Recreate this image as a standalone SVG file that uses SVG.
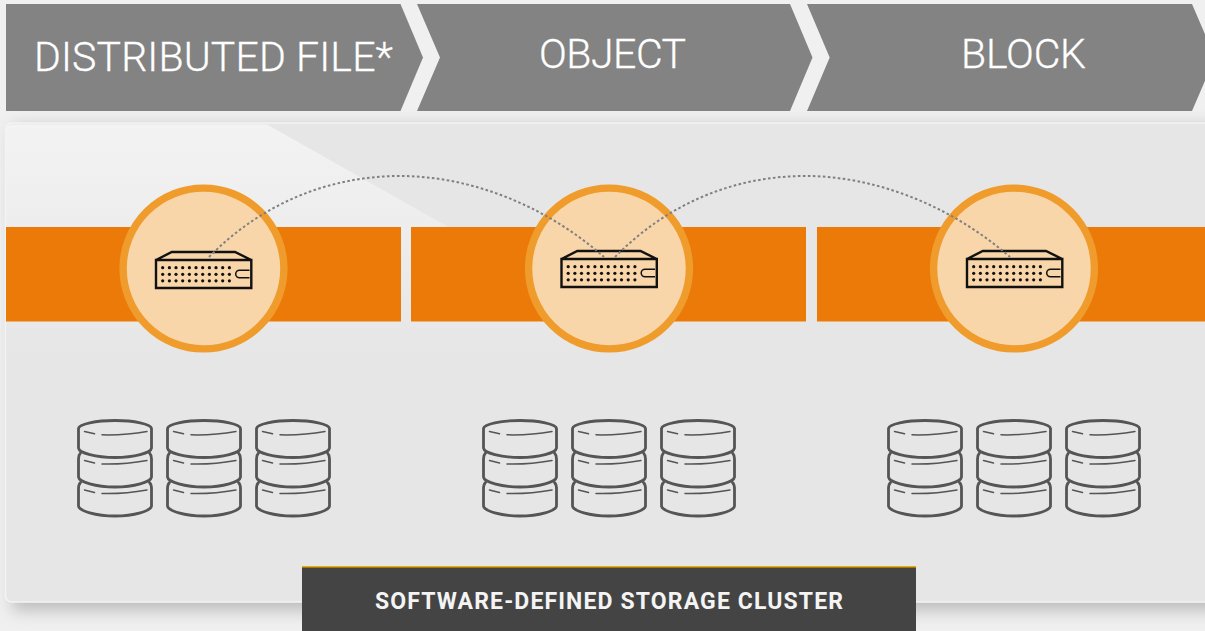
<svg xmlns="http://www.w3.org/2000/svg" width="1205" height="631" viewBox="0 0 1205 631">
<style>
.chev{fill:#838383}
.title{font-family:"Roboto","Noto Sans",sans-serif;font-size:41px;fill:#fff;font-weight:300;stroke:#fff;stroke-width:0.3}
.band{fill:#ec7a08}
.halo{fill:#f9d6a9;stroke:#f09c2c;stroke-width:7.4}
.srv{fill:none;stroke:#111;stroke-width:2.4}
.dots{fill:#111}
.disk{fill:none;stroke:#555;stroke-width:2.8;stroke-linejoin:round;stroke-linecap:round}
.link{fill:none;stroke:#808080;stroke-width:2;stroke-dasharray:2.6 2.4}
.cap{font-family:"Roboto","Noto Sans",sans-serif;font-size:23px;font-weight:700;fill:#f4f4f4}
</style>
<defs>
<filter id="soft" x="-5%" y="-5%" width="110%" height="110%"><feGaussianBlur stdDeviation="8"/></filter>
<linearGradient id="gleam" x1="0" y1="0" x2="0" y2="1"><stop offset="0" stop-color="#f3f3f3"/><stop offset="1" stop-color="#e6e6e6"/></linearGradient>
<g id="server">
<path class="srv" d="M156,260H251.3V288H156ZM156,260L171.8,252H235L251.3,260"/>
<path class="srv" style="stroke-width:1.5" d="M249.5,270.2H239.5a3.8,3.8 0 0 0 0,7.6H249.5"/>
<g class="dots">
<circle cx="162.7" cy="267.7" r="1.6"/><circle cx="169.4" cy="267.7" r="1.6"/><circle cx="176" cy="267.7" r="1.6"/><circle cx="182.7" cy="267.7" r="1.6"/><circle cx="189.4" cy="267.7" r="1.6"/><circle cx="196" cy="267.7" r="1.6"/><circle cx="202.7" cy="267.7" r="1.6"/><circle cx="209.4" cy="267.7" r="1.6"/><circle cx="216" cy="267.7" r="1.6"/><circle cx="222.7" cy="267.7" r="1.6"/><circle cx="229.4" cy="267.7" r="1.6"/>
<circle cx="162.7" cy="274.3" r="1.6"/><circle cx="169.4" cy="274.3" r="1.6"/><circle cx="176" cy="274.3" r="1.6"/><circle cx="182.7" cy="274.3" r="1.6"/><circle cx="189.4" cy="274.3" r="1.6"/><circle cx="196" cy="274.3" r="1.6"/><circle cx="202.7" cy="274.3" r="1.6"/><circle cx="209.4" cy="274.3" r="1.6"/><circle cx="216" cy="274.3" r="1.6"/><circle cx="222.7" cy="274.3" r="1.6"/><circle cx="229.4" cy="274.3" r="1.6"/>
<circle cx="162.7" cy="280.8" r="1.6"/><circle cx="169.4" cy="280.8" r="1.6"/><circle cx="176" cy="280.8" r="1.6"/><circle cx="182.7" cy="280.8" r="1.6"/><circle cx="189.4" cy="280.8" r="1.6"/><circle cx="196" cy="280.8" r="1.6"/><circle cx="202.7" cy="280.8" r="1.6"/><circle cx="209.4" cy="280.8" r="1.6"/><circle cx="216" cy="280.8" r="1.6"/><circle cx="222.7" cy="280.8" r="1.6"/><circle cx="229.4" cy="280.8" r="1.6"/>
</g>
</g>
<g id="stack">
<path class="disk" d="M78.500,428.500C79,424 96,420.500 115,420.500C134,420.500 151,424 151.500,428.500V448C151,453 134,457.500 115,457.500C96,457.500 79,453 78.500,448Z"/>
<path class="disk" d="M80.500,453C78.500,455 78.500,456 78.500,459V477C79,482 96,487 115,487C134,487 151,482 151.500,477V459C151.500,456 151.500,455 149.500,453"/>
<path class="disk" d="M80.500,482.500C78.500,484.500 78.500,486 78.500,489V506C79,511 96,516 115,516C134,516 151,511 151.500,506V489C151.500,486 151.500,484.500 149.500,482.500"/>
<path class="disk" style="stroke-width:1.500" d="M84.500,431.500L94.500,433.800M102,434.800C118,435.200 133,434 147,431.500"/>
<path class="disk" style="stroke-width:1.500" d="M84.500,460.500L94.500,463M102,464C118,464.500 133,463 147,460.500"/>
<path class="disk" style="stroke-width:1.500" d="M84.500,490L94.500,492.500M102,493.500C118,494 133,492.500 147,490"/>
</g>
<g id="stackset">
<use href="#stack"/><use href="#stack" x="89"/><use href="#stack" x="178"/>
</g>
</defs>
<rect width="1205" height="631" fill="#f0f0f0"/>
<rect x="12" y="126" width="1230" height="485" fill="#8c8c8c" opacity="0.5" filter="url(#soft)"/>
<g id="panel">
<rect x="5.500" y="123" width="1215" height="479" rx="6" fill="#e6e6e6" stroke="#f4f4f4" stroke-width="1.500"/>
<path d="M11,124.500H267L680,358L6,358V130Q6,124.500 11,124.500Z" fill="url(#gleam)"/>
</g>
<g id="tab-file"><polygon class="chev" points="6,4 400.500,4 423,57.500 400.500,111 6,111"/><text class="title" x="34" y="71" textLength="359">DISTRIBUTED FILE*</text></g>
<g id="tab-object"><polygon class="chev" points="417,4 790,4 812.500,57.500 790,111 417,111 440,57.500"/><text class="title" x="539" y="68" textLength="147">OBJECT</text></g>
<g id="tab-block"><polygon class="chev" points="807,4 1192,4 1215,57.500 1192,111 807,111 829.700,57.500"/><text class="title" x="961" y="68" textLength="125">BLOCK</text></g>
<g id="bands">
<rect class="band" x="6" y="227" width="395" height="94.500"/>
<rect class="band" x="411" y="227" width="395" height="94.500"/>
<rect class="band" x="817" y="227" width="388" height="94.500"/>
</g>
<g id="node-1"><circle class="halo" cx="203.500" cy="268.500" r="80.400"/><use href="#server"/><use href="#stackset"/></g>
<g id="node-2"><circle class="halo" cx="609" cy="268.500" r="80.400"/><use href="#server" x="405.500" y="-1"/><use href="#stackset" x="405"/></g>
<g id="node-3"><circle class="halo" cx="1014" cy="268.500" r="80.400"/><use href="#server" x="811" y="-1"/><use href="#stackset" x="810"/></g>
<g id="connectors">
<path class="link" d="M209,257C262,203 330,176 400,176C470,176 545,205 604,257"/>
<path class="link" d="M615,257C668,203 735,176 805,176C875,176 950,205 1010,257"/>
</g>
<g id="caption">
<rect x="302" y="566" width="614" height="65" fill="#444"/>
<rect x="302" y="566" width="614" height="1.500" fill="#f0ab00"/>
<text class="cap" x="375" y="609" textLength="468">SOFTWARE-DEFINED STORAGE CLUSTER</text>
</g>
</svg>
